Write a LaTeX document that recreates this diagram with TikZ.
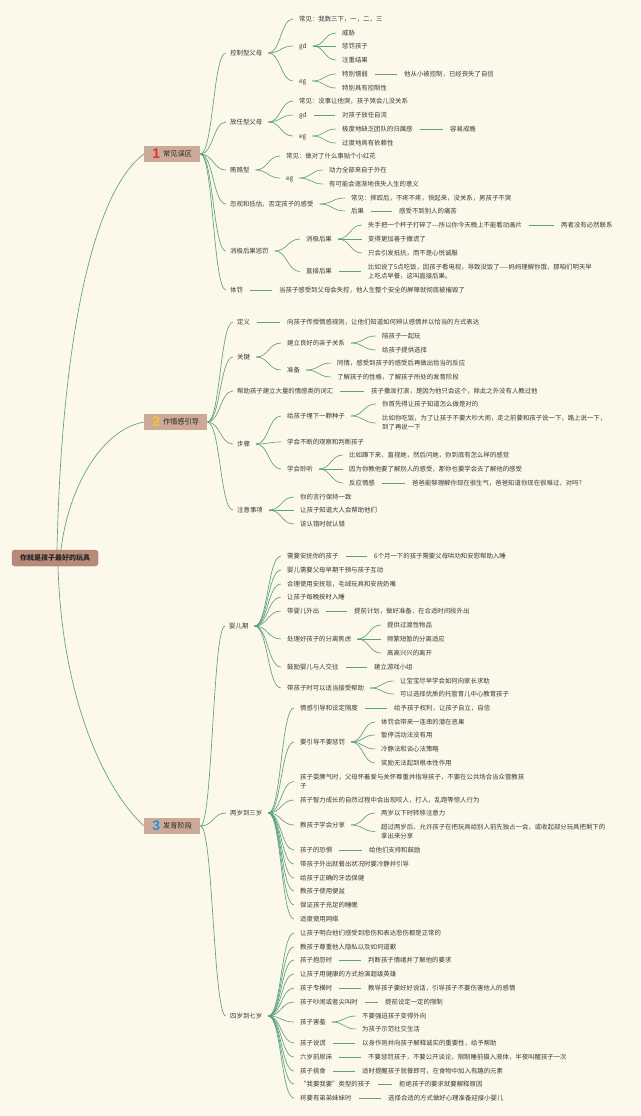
\documentclass[tikz,border=0pt]{standalone}
\usepackage{fontspec}
\newfontfamily\cjk{Noto Sans CJK SC}
\newfontfamily\numf{Liberation Sans}
\usetikzlibrary{calc}
\definecolor{bg}{HTML}{FCF9EA}
\definecolor{ln}{RGB}{92,160,128}
\definecolor{txt}{HTML}{383838}
\definecolor{secfill}{HTML}{CBAB97}
\definecolor{rootfill}{HTML}{B88B78}
\definecolor{rootdraw}{HTML}{A0735F}
\definecolor{nred}{HTML}{E5303A}
\definecolor{nyel}{HTML}{F4C430}
\definecolor{nblu}{HTML}{2E8FD8}
\def\mytf{\cjk\fontsize{6.4}{9}\selectfont}
\newcommand\N[4]{\node[t] (#1) at (#2,#3) {#4};}
\newcommand\cur[2]{\draw[br] let \p1=($(#1.east)+(6,0)$), \p2=($(#2.west)+(-6,0)$) in (\p1) .. controls ({(\x1+\x2)/2},\y1) and ({(\x1+\x2)/2},\y2) .. (\p2);}
\newcommand\curS[2]{\draw[br] let \p1=(#1.east), \p2=($(#2.west)+(-4,0)$) in (\p1) .. controls ({(\x1+\x2)/2},\y1) and ({(\x1+\x2)/2},\y2) .. (\p2);}
\newcommand\lin[2]{\draw[br] ($(#1.east)+(7,0)$) -- ($(#2.west)+(-7,0)$);}
\newcommand\secnum[2]{\textcolor{#1}{\raisebox{-2.5pt}{\numf\bfseries\fontsize{14}{14}\selectfont #2}}\hspace{3pt}}
\begin{document}
\begin{tikzpicture}[x=1pt,y=-1pt,
  t/.style={anchor=west, inner sep=0pt, font=\mytf, text=txt, text height=5.6pt, text depth=1pt},
  tt/.style={anchor=west, inner sep=0pt, font=\mytf, text=txt, align=left},
  br/.style={draw=ln, line width=0.65pt},
  rootbox/.style={draw=rootdraw, fill=rootfill, rounded corners=3pt, minimum width=86pt, minimum height=16pt, inner sep=0pt, font=\cjk\bfseries\fontsize{7}{8}\selectfont, text=black!85},
  sec/.style={anchor=west, fill=secfill, minimum height=16.5pt, inner sep=0pt, font=\cjk\fontsize{7.2}{8}\selectfont, text=black!85}]
\fill[bg] (0,0) rectangle (640,1116);
\useasboundingbox (0,0) rectangle (640,1116);

% root and sections
\node[rootbox] (root) at (55,558) {你就是孩子最好的玩具};
\node[sec, minimum width=56pt] (s1) at (144,154) {\secnum{nred}{1}常见误区};
\node[sec, minimum width=63pt] (s2) at (144,422) {\secnum{nyel}{2}作情感引导};
\node[sec, minimum width=56pt] (s3) at (144,826) {\secnum{nblu}{3}发育阶段};
\draw[br] ($(root.north)+(2,0)$) .. controls (62,330) and (95,190) .. (s1.west);
\draw[br] ($(root.north)+(6,0)$) .. controls (68,490) and (100,430) .. (s2.west);
\draw[br] ($(root.south)+(3,0)$) .. controls (62,700) and (105,790) .. (s3.west);

% ---------------- section 1
\N{a1}{230}{53}{控制型父母}
\N{a11}{299}{19}{常见：我数三下，一，二，三}
\N{a12}{299}{46}{gd}
\N{a121}{342}{33}{威胁}
\N{a122}{342}{46}{惩罚孩子}
\N{a123}{342}{60}{注重结果}
\N{a13}{299}{81}{eg}
\N{a131}{342}{74}{特别懦弱}
\N{a1311}{404}{74}{他从小被控制，已经丧失了自信}
\N{a132}{342}{88}{特别具有控制性}
\N{a2}{230}{122}{放任型父母}
\N{a21}{299}{101}{常见：没事让他哭，孩子哭会儿没关系}
\N{a22}{299}{115}{gd}
\N{a221}{342}{115}{对孩子放任自流}
\N{a23}{299}{136}{eg}
\N{a231}{342}{129}{极度地缺乏团队的归属感}
\N{a2311}{450}{129}{容易成瘾}
\N{a232}{342}{143}{过度地具有依赖性}
\N{a3}{230}{170}{贿赂型}
\N{a31}{286}{156}{常见：做对了什么事贴个小红花}
\N{a32}{286}{178}{eg}
\N{a321}{329}{170}{动力全部来自于外在}
\N{a322}{329}{184}{有可能会逐渐地丧失人生的意义}
\N{a4}{230}{204}{忽视和低估，否定孩子的感受}
\N{a41}{351}{198}{常见：摔跤后，不疼不疼，快起来，没关系，男孩子不哭}
\N{a42}{351}{211}{后果}
\N{a421}{399}{211}{感受不到别人的痛苦}
\N{a5}{230}{251}{消极后果惩罚}
\N{a51}{306}{239}{消极后果}
\N{a511}{368}{225}{失手把一个杯子打碎了---所以你今天晚上不能看动画片}
\N{a5111}{561}{225}{两者没有必然联系}
\N{a512}{368}{239}{变得更加善于撒谎了}
\N{a513}{368}{253}{只会引发抵抗，而不是心悦诚服}
\N{a52}{306}{271.5}{直接后果}
\node[tt] (a521) at (368,271.5) {比如说了5点吃饭，因孩子看电视，导致没饭了----妈妈理解你饿，那咱们明天早\\上吃点早餐，这叫直接后果。};
\N{a6}{230}{290}{体罚}
\N{a61}{279}{290}{当孩子感受到父母会失控，他人生整个安全的屏障就彻底被摧毁了}

\foreach \q in {a1,a2,a3,a4,a5,a6} {\curS{s1}{\q}}
\foreach \q in {a11,a12,a13} {\cur{a1}{\q}}
\foreach \q in {a121,a122,a123} {\cur{a12}{\q}}
\foreach \q in {a131,a132} {\cur{a13}{\q}}
\lin{a131}{a1311}
\foreach \q in {a21,a22,a23} {\cur{a2}{\q}}
\lin{a22}{a221}
\foreach \q in {a231,a232} {\cur{a23}{\q}}
\lin{a231}{a2311}
\foreach \q in {a31,a32} {\cur{a3}{\q}}
\foreach \q in {a321,a322} {\cur{a32}{\q}}
\foreach \q in {a41,a42} {\cur{a4}{\q}}
\lin{a42}{a421}
\foreach \q in {a51,a52} {\cur{a5}{\q}}
\foreach \q in {a511,a512,a513} {\cur{a51}{\q}}
\lin{a511}{a5111}
\lin{a52}{a521}
\lin{a6}{a61}

% ---------------- section 2
\N{b1}{237}{322}{定义}
\N{b11}{287}{322}{向孩子传授情感规则，让他们知道如何辨认感情并以恰当的方式表达}
\N{b2}{237}{357}{关键}
\N{b21}{287}{343}{建立良好的亲子关系}
\N{b211}{382}{336}{陪孩子一起玩}
\N{b212}{382}{350}{给孩子提供选择}
\N{b22}{287}{370}{准备}
\N{b221}{337}{363}{同情，感受到孩子的感受后再做出恰当的反应}
\N{b222}{337}{377}{了解孩子的性格，了解孩子所处的发育阶段}
\N{b3}{237}{391}{帮助孩子建立大量的情感类的词汇}
\N{b31}{371}{391}{孩子撒泼打滚，是因为他只会这个，除此之外没有人教过他}
\N{b4}{237}{444}{步骤}
\N{b41}{287}{416}{给孩子埋下一颗种子}
\N{b411}{382}{404}{你首先得让孩子知道怎么做是对的}
\node[tt] (b412) at (382,423) {比如你吃饭，为了让孩子不要大吵大闹，走之前要和孩子说一下，路上说一下，\\到了再说一下};
\N{b42}{287}{442}{学会不断的观察和判断孩子}
\N{b43}{287}{469}{学会聆听}
\N{b431}{349}{455}{比如蹲下来，直视她，然后问她，你到底有怎么样的感觉}
\N{b432}{349}{469}{因为你教他要了解别人的感受，那你也要学会去了解他的感受}
\N{b433}{349}{483}{反应情感}
\N{b4331}{412}{483}{爸爸能够理解你现在很生气，爸爸知道你现在很难过，对吗？}
\N{b5}{237}{510}{注意事项}
\N{b51}{300}{497}{你的言行保持一致}
\N{b52}{300}{510}{让孩子知道大人会帮助他们}
\N{b53}{300}{524}{该认错时就认错}

\foreach \q in {b1,b2,b3,b4,b5} {\curS{s2}{\q}}
\lin{b1}{b11}
\foreach \q in {b21,b22} {\cur{b2}{\q}}
\foreach \q in {b211,b212} {\cur{b21}{\q}}
\foreach \q in {b221,b222} {\cur{b22}{\q}}
\lin{b3}{b31}
\foreach \q in {b41,b42,b43} {\cur{b4}{\q}}
\foreach \q in {b411,b412} {\cur{b41}{\q}}
\foreach \q in {b431,b432,b433} {\cur{b43}{\q}}
\lin{b433}{b4331}
\foreach \q in {b51,b52,b53} {\cur{b5}{\q}}

% ---------------- section 3
\N{c1}{229}{626}{婴儿期}
\N{c11}{287}{556}{需要安抚你的孩子}
\N{c111}{374}{556}{6个月一下的孩子需要父母哄劝和安慰帮助入睡}
\N{c12}{287}{570}{婴儿需要父母早期干预与孩子互动}
\N{c13}{287}{584}{合理使用安抚毯，毛绒玩具和安抚奶嘴}
\N{c14}{287}{597}{让孩子每晚按时入睡}
\N{c15}{287}{611}{带婴儿外出}
\N{c151}{354}{611}{提前计划，做好准备，在合适时间段外出}
\N{c16}{287}{639}{处理好孩子的分离焦虑}
\N{c161}{387}{625}{提供过渡性物品}
\N{c162}{387}{639}{频繁短暂的分离适应}
\N{c163}{387}{653}{高高兴兴的离开}
\N{c17}{287}{667}{鼓励婴儿与人交往}
\N{c171}{374}{667}{建立游戏小组}
\N{c18}{287}{688}{带孩子时可以适当接受帮助}
\N{c181}{400}{681}{让宝宝尽早学会如何向家长求助}
\N{c182}{400}{694}{可以选择优质的托管育儿中心教育孩子}

\N{c2}{230}{813}{两岁到三岁}
\N{c21}{300}{708}{情感引导和设定限度}
\N{c211}{394}{708}{给予孩子权利，让孩子自立，自信}
\N{c22}{300}{742}{要引导不要惩罚}
\N{c221}{381}{722}{体罚会带来一连串的潜在恶果}
\N{c222}{381}{735}{暂停活动法没有用}
\N{c223}{381}{749}{冷静法和谈心法策略}
\N{c224}{381}{763}{奖励无法起到根本性作用}
\node[tt] (c23) at (300,781.5) {孩子耍脾气时，父母怀着爱与关怀尊重并指导孩子，不要在公共场合当众管教孩\\子};
\N{c24}{300}{800}{孩子智力成长的自然过程中会出现咬人，打人，乱跑等惊人行为}
\N{c25}{300}{825}{教孩子学会分享}
\N{c251}{381}{813}{两岁以下时转移注意力}
\node[tt] (c252) at (381,831.5) {超过两岁后，允许孩子在把玩具给别人前先独占一会，或收起部分玩具把剩下的\\拿出来分享};
\N{c26}{300}{850}{孩子的恐惧}
\N{c261}{369}{850}{给他们支持和鼓励}
\N{c27}{300}{864}{带孩子外出就餐出状况时要冷静并引导}
\N{c28}{300}{878}{给孩子正确的牙齿保健}
\N{c29}{300}{891}{教孩子使用便盆}
\N{c2a}{300}{905}{保证孩子充足的睡眠}
\N{c2b}{300}{919}{适度使用网络}

\N{c3}{230}{1016}{四岁到七岁}
\N{c31}{300}{933}{让孩子明白他们感受到悲伤和表达悲伤都是正常的}
\N{c32}{300}{947}{教孩子尊重他人隐私以及如何道歉}
\N{c33}{300}{960}{孩子抱怨时}
\N{c331}{368}{960}{判断孩子情绪并了解他的要求}
\N{c34}{300}{974}{让孩子用健康的方式扮演超级英雄}
\N{c35}{300}{988}{孩子专横时}
\N{c351}{368}{988}{教导孩子要好好说话，引导孩子不要伤害他人的感情}
\N{c36}{300}{1002}{孩子吵闹或者尖叫时}
\N{c361}{385}{1002}{提前设定一定的限制}
\N{c37}{300}{1022}{孩子害羞}
\N{c371}{362}{1016}{不要强迫孩子变得外向}
\N{c372}{362}{1029}{为孩子示范社交生活}
\N{c38}{300}{1043}{孩子说谎}
\N{c381}{362}{1043}{以身作则并向孩子解释诚实的重要性，给予帮助}
\N{c39}{300}{1057}{六岁前尿床}
\N{c391}{368}{1057}{不要惩罚孩子，不要公开谈论，限制睡前摄入液体，半夜叫醒孩子一次}
\N{c3a}{300}{1071}{孩子挑食}
\N{c3a1}{362}{1071}{适时提醒孩子就餐即可，在食物中加入有趣的元素}
\N{c3b}{300}{1084}{“我要我要”类型的孩子}
\N{c3b1}{399}{1084}{拒绝孩子的要求就要解释原因}
\N{c3c}{300}{1098}{将要有弟弟妹妹时}
\N{c3c1}{388}{1098}{选择合适的方式做好心理准备迎接小婴儿}

\foreach \q in {c1,c2,c3} {\curS{s3}{\q}}
\foreach \q in {c11,c12,c13,c14,c15,c16,c17,c18} {\cur{c1}{\q}}
\lin{c11}{c111}
\lin{c15}{c151}
\lin{c17}{c171}
\foreach \q in {c161,c162,c163} {\cur{c16}{\q}}
\foreach \q in {c181,c182} {\cur{c18}{\q}}
\foreach \q in {c21,c22,c23,c24,c25,c26,c27,c28,c29,c2a,c2b} {\cur{c2}{\q}}
\lin{c21}{c211}
\foreach \q in {c221,c222,c223,c224} {\cur{c22}{\q}}
\foreach \q in {c251,c252} {\cur{c25}{\q}}
\lin{c26}{c261}
\foreach \q in {c31,c32,c33,c34,c35,c36,c37,c38,c39,c3a,c3b,c3c} {\cur{c3}{\q}}
\lin{c33}{c331}
\lin{c35}{c351}
\lin{c36}{c361}
\foreach \q in {c371,c372} {\cur{c37}{\q}}
\lin{c38}{c381}
\lin{c39}{c391}
\lin{c3a}{c3a1}
\lin{c3b}{c3b1}
\lin{c3c}{c3c1}
\end{tikzpicture}
\end{document}
